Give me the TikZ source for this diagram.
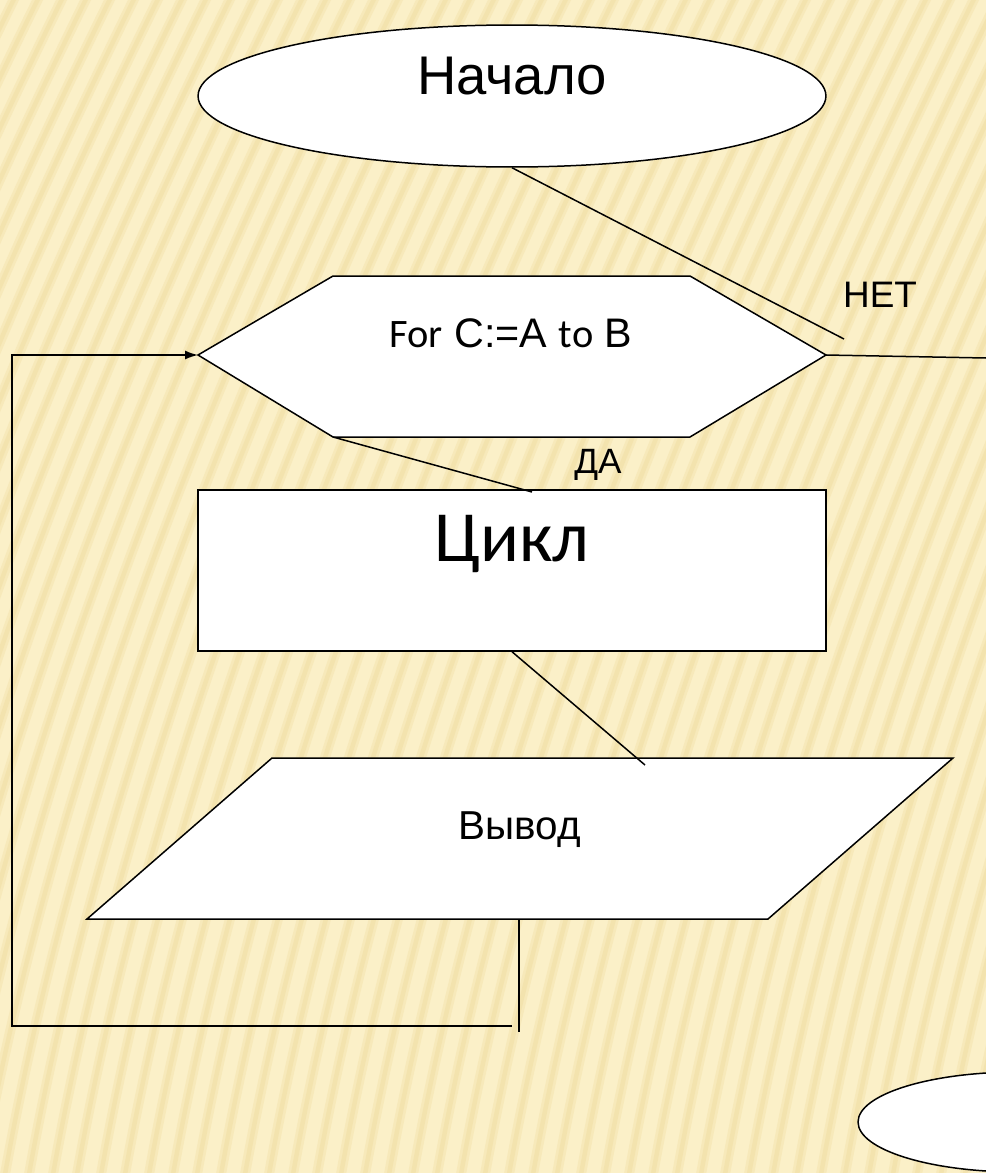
\documentclass[tikz,border=0pt]{standalone}
\usepackage{fontspec}
\setmainfont{Liberation Sans}
\newfontfamily\calib{Carlito}
\usetikzlibrary{shapes.geometric,arrows.meta}
\definecolor{bgyellow}{RGB}{251,240,200}
\definecolor{stripeyellow}{RGB}{240,221,160}
\tikzset{
  shapeline/.style={draw=black, line width=0.03cm, fill=white, line join=miter},
  conn/.style={draw=black, line width=0.03cm},
  stripe/.style={draw=stripeyellow, line width=0.2cm, opacity=0.35},
  stripecore/.style={draw=stripeyellow, line width=0.09cm, opacity=0.45},
  lbl/.style={anchor=base, inner sep=0pt, text=black},
}
\begin{document}
\begin{tikzpicture}[x=0.02cm,y=-0.02cm]
\useasboundingbox (0,0) rectangle (986,1173);
\begin{scope}
\clip (0,0) rectangle (986,1173);
\fill[bgyellow] (0,0) rectangle (986,1173);
\foreach \x in {-500,-476,...,1000} {
  \draw[stripe] (\x,1180) .. controls (\x+70,783) and (\x+225,390) .. (\x+420,-5);
  \draw[stripecore] (\x,1180) .. controls (\x+70,783) and (\x+225,390) .. (\x+420,-5);
}
% end terminator (clipped)
\node[ellipse, shapeline, minimum width=6.4cm, minimum height=2.0cm, inner sep=0pt] (finish) at (1018,1122) {};
\end{scope}

% start
\node[ellipse, shapeline, minimum width=12.56cm, minimum height=2.84cm, inner sep=0pt] (start) at (512,96) {};
\node[lbl] (tstart) at (512,94) {\fontsize{31}{36}\selectfont Начало};

% loop hexagon
\coordinate (hL) at (198,355);
\coordinate (hTL) at (333,276);
\coordinate (hTR) at (690,276);
\coordinate (hR) at (826,355);
\coordinate (hBR) at (690,437);
\coordinate (hBL) at (333,437);
\path[shapeline] (hL) -- (hTL) -- (hTR) -- (hR) -- (hBR) -- (hBL) -- cycle;
\node[lbl] (tfor) at (511,347) {\fontsize{23.5}{28}\selectfont{\calib\fontsize{23}{27}\selectfont For} C:=A {\calib\fontsize{23}{27}\selectfont to} B};

% body
\node[rectangle, shapeline, minimum width=12.56cm, minimum height=3.22cm, inner sep=0pt] (body) at (512,570.5) {};
\node[lbl] (tbody) at (512,561) {\calib\fontsize{41}{48}\selectfont Цикл};

% output parallelogram
\coordinate (pTL) at (272,758);
\coordinate (pTR) at (953,758);
\coordinate (pBR) at (768,919);
\coordinate (pBL) at (87,919);
\coordinate (pB) at (519,919);
\path[shapeline] (pTL) -- (pTR) -- (pBR) -- (pBL) -- cycle;
\node[lbl] (tout) at (520,839) {\fontsize{23}{28}\selectfont Вывод};

% labels
\node[lbl] (tnet) at (880,307) {\fontsize{21}{25}\selectfont НЕТ};
\node[lbl] (tda) at (598,473) {\fontsize{20}{24}\selectfont ДА};

% connectors
\coordinate (netEnd) at (844,339);
\coordinate (rightEnd) at (986,358);
\coordinate (daEnd) at (532,492);
\coordinate (outEnd) at (645,765);
\coordinate (downEnd) at (519,1032);
\coordinate (loopStart) at (512,1026);
\coordinate (loopCorner) at (12,1026);

\draw[conn] (start.south) -- (netEnd);
\draw[conn] (hR) -- (rightEnd);
\draw[conn] (hBL) -- (daEnd);
\draw[conn] (body.south) -- (outEnd);
\draw[conn] (pB) -- (downEnd);
\draw[conn, -{Latex[length=0.26cm,width=0.18cm]}] (loopStart) -- (loopCorner) |- (hL);
\end{tikzpicture}
\end{document}
